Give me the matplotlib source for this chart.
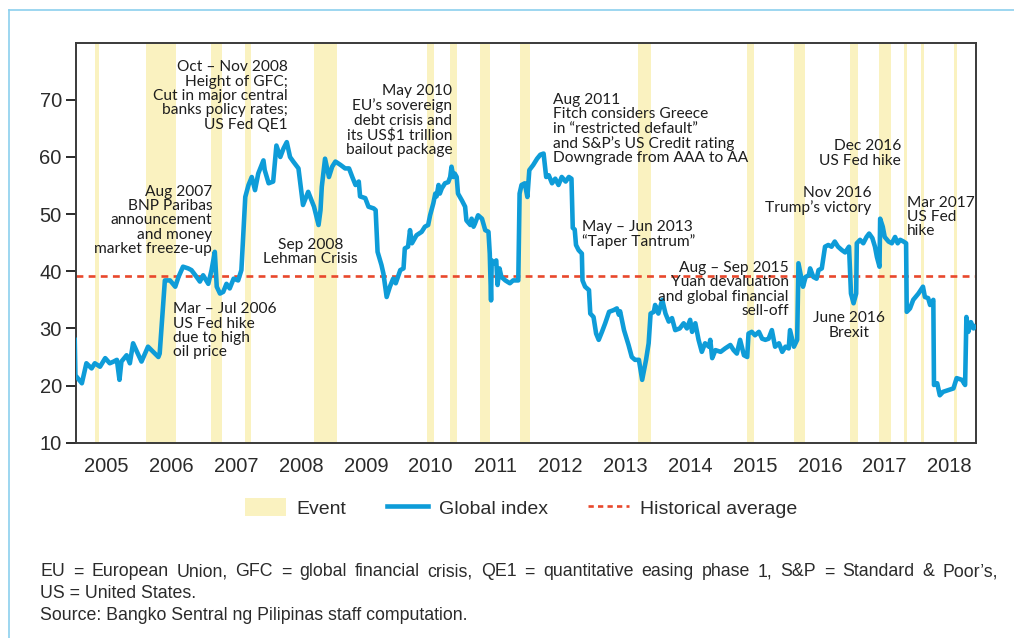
import matplotlib
matplotlib.use('Agg')
import matplotlib.pyplot as plt
from matplotlib import font_manager
from matplotlib.patches import Patch
from matplotlib.lines import Line2D


def pick(fams):
    for f in fams:
        try:
            font_manager.findfont(font_manager.FontProperties(family=f), fallback_to_default=False)
            return f
        except Exception:
            pass
    return 'DejaVu Sans'


NARROW = pick(['Liberation Sans Narrow', 'Liberation Sans'])
IS_NARROW = NARROW == 'Liberation Sans Narrow'
HUMAN = pick(['Lato', 'Open Sans', 'Noto Sans'])

# ---------------- data ----------------
dates = [
    2004.51, 2004.52, 2004.62, 2004.69, 2004.77, 2004.82, 2004.90, 2004.98, 2005.05, 2005.11,
    2005.16, 2005.20, 2005.23, 2005.31, 2005.36, 2005.41, 2005.47, 2005.54, 2005.64, 2005.80,
    2005.82, 2005.90, 2005.98, 2006.06, 2006.11, 2006.18, 2006.26, 2006.31, 2006.39, 2006.44,
    2006.49, 2006.57, 2006.62, 2006.67, 2006.70, 2006.75, 2006.80, 2006.85, 2006.90, 2006.96,
    2007.03, 2007.08, 2007.14, 2007.19, 2007.24, 2007.29, 2007.34, 2007.42, 2007.44, 2007.50,
    2007.57, 2007.62, 2007.68, 2007.73, 2007.78, 2007.83, 2007.88, 2007.96, 2008.03, 2008.11,
    2008.20, 2008.27, 2008.30, 2008.32, 2008.37, 2008.43, 2008.48, 2008.53, 2008.61, 2008.68,
    2008.74, 2008.79, 2008.84, 2008.89, 2008.91, 2008.99, 2009.04, 2009.12, 2009.15, 2009.18,
    2009.24, 2009.27, 2009.32, 2009.37, 2009.42, 2009.46, 2009.53, 2009.58, 2009.60, 2009.65,
    2009.68, 2009.71, 2009.78, 2009.86, 2009.91, 2009.96, 2009.99, 2010.04, 2010.07, 2010.09,
    2010.12, 2010.14, 2010.17, 2010.22, 2010.27, 2010.30, 2010.32, 2010.35, 2010.37, 2010.40,
    2010.42, 2010.48, 2010.53, 2010.55, 2010.61, 2010.63, 2010.66, 2010.68, 2010.73, 2010.79,
    2010.84, 2010.89, 2010.91, 2010.93, 2010.94, 2010.98, 2011.01, 2011.03, 2011.06, 2011.09,
    2011.15, 2011.22, 2011.27, 2011.35, 2011.37, 2011.40, 2011.45, 2011.49, 2011.52, 2011.58,
    2011.64, 2011.69, 2011.74, 2011.78, 2011.82, 2011.87, 2011.92, 2011.97, 2012.02, 2012.08,
    2012.13, 2012.17, 2012.19, 2012.22, 2012.24, 2012.28, 2012.33, 2012.34, 2012.38, 2012.44,
    2012.46, 2012.51, 2012.55, 2012.59, 2012.64, 2012.69, 2012.75, 2012.82, 2012.87, 2012.90,
    2012.92, 2012.98, 2013.05, 2013.10, 2013.15, 2013.21, 2013.26, 2013.32, 2013.36, 2013.39,
    2013.44, 2013.46, 2013.51, 2013.57, 2013.62, 2013.67, 2013.72, 2013.77, 2013.84, 2013.90,
    2013.95, 2014.00, 2014.03, 2014.08, 2014.13, 2014.18, 2014.23, 2014.29, 2014.31, 2014.34,
    2014.39, 2014.47, 2014.54, 2014.62, 2014.67, 2014.72, 2014.77, 2014.83, 2014.88, 2014.90,
    2014.95, 2015.00, 2015.06, 2015.11, 2015.16, 2015.21, 2015.26, 2015.31, 2015.37, 2015.42,
    2015.47, 2015.52, 2015.54, 2015.60, 2015.65, 2015.67, 2015.70, 2015.74, 2015.78, 2015.83,
    2015.85, 2015.90, 2015.95, 2015.98, 2016.03, 2016.08, 2016.13, 2016.18, 2016.23, 2016.28,
    2016.34, 2016.39, 2016.45, 2016.48, 2016.52, 2016.56, 2016.57, 2016.62, 2016.67, 2016.72,
    2016.76, 2016.81, 2016.85, 2016.88, 2016.92, 2016.93, 2016.97, 2017.00, 2017.06, 2017.11,
    2017.16, 2017.20, 2017.24, 2017.29, 2017.33, 2017.34, 2017.39, 2017.44, 2017.52, 2017.59,
    2017.62, 2017.67, 2017.70, 2017.75, 2017.76, 2017.81, 2017.85, 2017.90, 2017.98, 2018.06,
    2018.11, 2018.19, 2018.24, 2018.26, 2018.29, 2018.33, 2018.37, 2018.39,
]
global_index = [
    28.0, 21.8, 20.4, 23.9, 23.0, 23.9, 23.3, 24.8, 23.9, 24.2,
    24.5, 21.0, 24.2, 25.3, 23.9, 27.4, 25.9, 24.2, 26.8, 25.0,
    25.6, 38.4, 38.4, 37.3, 39.0, 40.8, 40.5, 40.2, 39.0, 38.2,
    39.3, 37.8, 40.2, 43.4, 37.3, 36.1, 36.4, 37.8, 37.0, 38.7,
    38.4, 40.2, 53.0, 55.1, 56.5, 54.2, 57.1, 59.4, 57.7, 55.4,
    55.7, 62.0, 60.0, 61.5, 62.6, 60.0, 59.2, 58.0, 51.6, 53.9,
    51.3, 48.1, 50.7, 54.8, 59.7, 56.5, 58.3, 59.2, 58.6, 58.0,
    58.0, 56.5, 55.1, 55.7, 53.1, 52.8, 51.3, 51.0, 50.7, 43.4,
    41.1, 39.6, 35.5, 37.3, 38.7, 37.9, 40.2, 40.5, 44.0, 44.3,
    47.2, 44.9, 46.3, 46.9, 47.8, 48.1, 49.8, 51.9, 53.6, 53.1,
    55.1, 53.6, 54.5, 55.4, 55.6, 56.5, 58.3, 56.5, 57.1, 56.5,
    53.6, 52.4, 51.3, 48.9, 48.1, 49.2, 47.8, 48.3, 49.8, 49.2,
    47.2, 46.9, 43.1, 34.9, 41.9, 41.4, 41.9, 37.6, 40.5, 39.0,
    38.4, 37.9, 38.4, 38.4, 53.6, 55.1, 55.4, 53.0, 57.7, 58.6,
    59.7, 60.4, 60.6, 56.5, 56.8, 55.4, 56.2, 55.1, 56.5, 55.7,
    56.5, 56.2, 47.6, 47.3, 44.6, 43.7, 43.1, 38.4, 37.3, 36.7,
    32.6, 32.0, 29.1, 28.0, 29.4, 30.9, 32.9, 33.2, 33.5, 32.4,
    33.0, 29.7, 27.1, 25.0, 24.5, 24.5, 21.0, 24.5, 27.4, 32.6,
    32.9, 34.1, 32.6, 35.0, 32.6, 31.2, 31.8, 29.7, 30.0, 30.9,
    30.0, 31.5, 29.4, 30.9, 28.0, 25.9, 27.4, 26.8, 28.0, 24.8,
    26.2, 25.9, 26.5, 27.1, 26.2, 25.6, 28.0, 25.3, 25.0, 29.1,
    29.4, 28.8, 29.4, 28.2, 28.0, 28.2, 29.7, 26.8, 27.4, 25.9,
    26.8, 26.5, 29.7, 26.8, 28.0, 41.4, 39.6, 37.3, 39.0, 39.3,
    40.5, 39.0, 38.7, 40.2, 40.5, 44.3, 44.6, 44.3, 45.2, 44.3,
    43.7, 43.3, 44.3, 36.1, 34.4, 36.1, 44.9, 45.5, 44.9, 46.0,
    46.6, 45.8, 44.3, 42.5, 40.8, 49.2, 47.8, 46.0, 45.2, 44.9,
    46.0, 44.9, 45.5, 45.2, 44.9, 32.9, 33.5, 35.0, 36.1, 37.3,
    35.5, 35.3, 34.1, 35.0, 20.1, 20.4, 18.3, 18.9, 19.2, 19.5,
    21.3, 21.0, 20.1, 32.0, 29.4, 31.1, 30.0, 30.3,
]
historical_average = 39.1

event_start = [2004.82, 2005.61, 2006.61, 2007.14, 2008.20, 2009.94, 2010.30, 2010.76, 2011.37,
               2013.20, 2014.88, 2015.60, 2016.46, 2016.91, 2017.30, 2017.56, 2018.07]
event_end = [2004.88, 2006.07, 2006.78, 2007.23, 2008.55, 2010.05, 2010.40, 2010.91, 2011.53,
             2013.40, 2014.98, 2015.77, 2016.59, 2017.10, 2017.34, 2017.61, 2018.12]

years = list(range(2005, 2019))
year_labels = [str(y) for y in years]
y_ticks = [10, 20, 30, 40, 50, 60, 70]

# annotation texts: (x, y, text, horizontal alignment)
ann_x = [2007.80, 2006.63, 2006.02, 2008.15, 2010.33, 2011.89, 2012.34, 2015.52, 2016.45,
         2016.80, 2017.25, 2017.34]
ann_y = [70.7, 48.9, 29.6, 43.4, 66.4, 64.9, 46.5, 36.8, 30.5, 52.4, 60.6, 49.5]
ann_text = [
    "Oct \u2013 Nov 2008\nHeight of GFC;\nCut in major central\nbanks policy rates;\nUS Fed QE1",
    "Aug 2007\nBNP Paribas\nannouncement\nand money\nmarket freeze-up",
    "Mar \u2013 Jul 2006\nUS Fed hike\ndue to high\noil price",
    "Sep 2008\nLehman Crisis",
    "May 2010\nEU\u2019s sovereign\ndebt crisis and\nits US$1 trillion\nbailout package",
    "Aug 2011\nFitch considers Greece\nin \u201crestricted default\u201d\nand S&P\u2019s US Credit rating\nDowngrade from AAA to AA",
    "May \u2013 Jun 2013\n\u201cTaper Tantrum\u201d",
    "Aug \u2013 Sep 2015\nYuan devaluation\nand global financial\nsell-off",
    "June 2016\nBrexit",
    "Nov 2016\nTrump\u2019s victory",
    "Dec 2016\nUS Fed hike",
    "Mar 2017\nUS Fed\nhike",
]
ann_ha = ['right', 'right', 'left', 'center', 'right', 'left', 'left', 'right', 'center',
          'right', 'right', 'left']

foot_lines = [
    "EU = European Union, GFC = global financial crisis, QE1 = quantitative easing phase 1, S&P = Standard & Poor\u2019s,",
    "US = United States.",
    "Source: Bangko Sentral ng Pilipinas staff computation.",
]

# ---------------- style ----------------
BLUE = '#0E9CD8'
RED = '#E8482C'
BAND = '#FAF2C0'
DARK = '#2B2B2B'
TICK_FS = 16.5 if IS_NARROW else 14.5
LEG_FS = 16.5 if IS_NARROW else 14.0
FOOT_FS = 14.0 if IS_NARROW else 12.8

W, H = 1014, 638
fig = plt.figure(figsize=(W / 100, H / 100), dpi=100)
ax = fig.add_axes([75.7 / W, 1 - 442.7 / H, (976 - 75.7) / W, 400 / H])

for s, e in zip(event_start, event_end):
    ax.axvspan(s, e, color=BAND, lw=0, zorder=0)

ax.axhline(historical_average, color=RED, lw=1.9, ls=(0, (2.6, 2.0)), zorder=2)
ax.plot(dates, global_index, color=BLUE, lw=3.3, solid_joinstyle='round', zorder=3)

ax.set_xlim(2004.525, 2018.408)
ax.set_ylim(10, 80)
ax.set_yticks(y_ticks)
ax.set_xticks(years)
ax.set_xticklabels(year_labels)
ax.tick_params(axis='x', length=0, pad=10, labelsize=TICK_FS, labelcolor=DARK)
ax.tick_params(axis='y', length=7, width=1.4, color=DARK, pad=3, labelsize=TICK_FS, labelcolor=DARK)
for lab in ax.get_xticklabels() + ax.get_yticklabels():
    lab.set_family(NARROW)
for sp in ax.spines.values():
    sp.set_color('#3A3A3A')
    sp.set_linewidth(1.4)

for x, y, t, ha in zip(ann_x, ann_y, ann_text, ann_ha):
    ax.text(x, y, t, ha=ha, va='center', multialignment=ha, fontsize=11.2, family=HUMAN,
            color='#1E1E1E', linespacing=1.03, zorder=5)

# legend
handles = [
    Patch(facecolor=BAND, edgecolor='none'),
    Line2D([], [], color=BLUE, lw=3.3),
    Line2D([], [], color=RED, lw=1.9, ls=(0, (2.0, 1.6))),
]
leg = fig.legend(handles, ['Event', 'Global index', 'Historical average'], loc='center',
                 bbox_to_anchor=(521 / W, 1 - 508 / H), ncol=3, frameon=False,
                 prop={'family': NARROW, 'size': LEG_FS}, handlelength=2.1, handleheight=1.0,
                 handletextpad=0.55, columnspacing=2.1)
for t in leg.get_texts():
    t.set_color(DARK)

# frame lines (light blue)
fig.add_artist(Line2D([9 / W, 9 / W], [0, 1 - 10 / H], color='#8CD0EE', lw=1.2, transform=fig.transFigure))
fig.add_artist(Line2D([9 / W, 1], [1 - 10 / H, 1 - 10 / H], color='#8CD0EE', lw=1.2, transform=fig.transFigure))

# footnote with justified first line
fig.canvas.draw()
rend = fig.canvas.get_renderer()
ys = [1 - 572 / H, 1 - 594 / H, 1 - 616 / H]
words = foot_lines[0].split(' ')
widths = []
for wd in words:
    tt = fig.text(0, 0, wd, fontsize=FOOT_FS, family=NARROW)
    widths.append(tt.get_window_extent(rend).width / W)
    tt.remove()
x0, x1 = 40 / W, 998 / W
gap = (x1 - x0 - sum(widths)) / (len(words) - 1)
xc = x0
for wd, wi in zip(words, widths):
    fig.text(xc, ys[0], wd, fontsize=FOOT_FS, family=NARROW, va='center', color=DARK)
    xc += wi + gap
fig.text(x0, ys[1], foot_lines[1], fontsize=FOOT_FS, family=NARROW, va='center', color=DARK)
fig.text(x0, ys[2], foot_lines[2], fontsize=FOOT_FS, family=NARROW, va='center', color=DARK)

fig.savefig('out.png', dpi=100)
